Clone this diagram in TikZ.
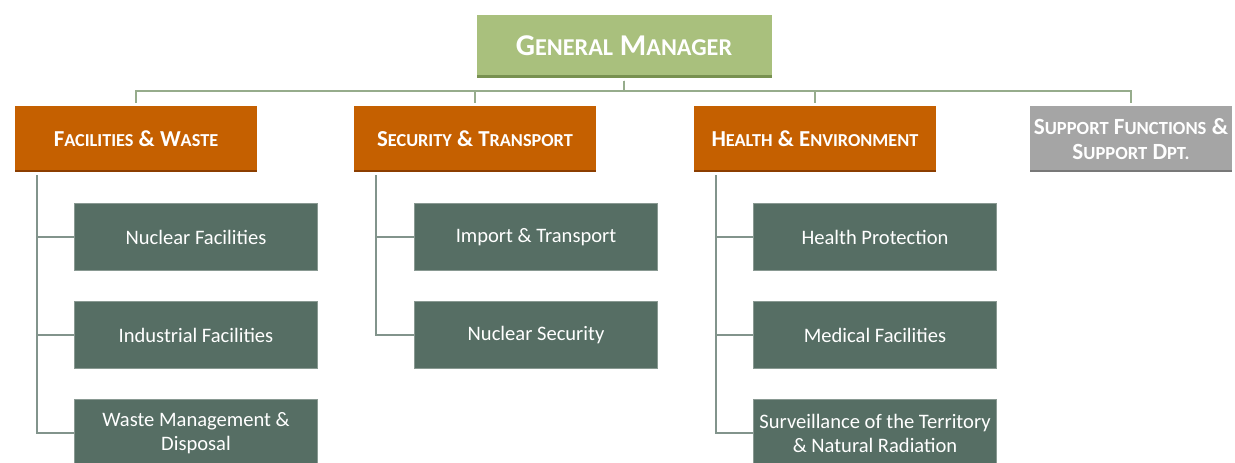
\documentclass[tikz,border=0pt]{standalone}
\usepackage{fontspec}
\setmainfont{Carlito}
\usepackage{graphicx}
\usetikzlibrary{shadows,positioning}

\definecolor{gmGreen}{RGB}{169,192,125}
\definecolor{gmGreenDark}{RGB}{120,145,80}
\definecolor{deptOrange}{RGB}{197,96,0}
\definecolor{deptOrangeDark}{RGB}{140,62,0}
\definecolor{supGrey}{RGB}{165,165,165}
\definecolor{supGreyDark}{RGB}{120,120,120}
\definecolor{unitTeal}{RGB}{86,110,100}
\definecolor{busLine}{RGB}{150,172,140}
\definecolor{subLine}{RGB}{130,148,140}

\newcommand\smc[1]{\scalebox{0.8}{#1}}
\def\px{0.02cm}

\tikzset{
  box/.style={rectangle, draw=white, line width=3*\px, text=white, align=center,
    drop shadow={shadow xshift=0.5pt, shadow yshift=-1pt, opacity=0.18, fill=black},
    path picture={
      \fill[#1] (path picture bounding box.south west) rectangle ([yshift=2.2pt]path picture bounding box.south east);
    }},
  gm/.style={box=gmGreenDark, fill=gmGreen, minimum width=298*\px, minimum height=66*\px,
    font=\fontsize{17.2}{20}\selectfont\bfseries},
  head/.style={box=deptOrangeDark, fill=deptOrange, minimum width=245*\px, minimum height=69*\px,
    font=\fontsize{13}{14}\selectfont\bfseries},
  support/.style={box=supGreyDark, fill=supGrey, minimum width=204*\px, minimum height=69*\px,
    font=\fontsize{13.2}{14.6}\selectfont\bfseries},
  unit/.style={rectangle, fill=unitTeal, draw=unitTeal!70!white, line width=0.4pt, text=white,
    align=center, minimum width=243*\px, minimum height=67*\px,
    font=\fontsize{11.7}{13.6}\selectfont},
  busline/.style={draw=busLine, line width=1.1pt},
  subline/.style={draw=subLine, line width=1.1pt}
}

\begin{document}
\begin{tikzpicture}[x=\px,y=-\px]
\useasboundingbox (0,0) rectangle (1235,463);

%% top of the chart
\node[gm] (gm) at (624,46) {G\smc{ENERAL} M\smc{ANAGER}};
\coordinate (bus) at (624,91);

%% departments
\node[head] (fw) at (136,139) {F\smc{ACILITIES} \& W\smc{ASTE}};
\node[head] (st) at (475,139) {S\smc{ECURITY} \& T\smc{RANSPORT}};
\node[head] (he) at (815,139) {H\smc{EALTH} \& E\smc{NVIRONMENT}};
\node[support] (sp) at (1131,139) {S\smc{UPPORT} F\smc{UNCTIONS} \&\\S\smc{UPPORT} D\smc{PT.}};

%% units
\node[unit] (nf) at (196,237) {Nuclear Facilities};
\node[unit] (if) at (196,335) {Industrial Facilities};
\node[unit] (wm) at (196,433) {Waste Management \&\\Disposal};
\node[unit] (it) at (536,237) {Import \& Transport};
\node[unit] (ns) at (536,335) {Nuclear Security};
\node[unit] (hp) at (875,237) {Health Protection};
\node[unit] (mf) at (875,335) {Medical Facilities};
\node[unit] (sv) at (875,433) {Surveillance of the Territory\\\& Natural Radiation};

%% connectors
\foreach \d in {fw,st,he,sp}
  \draw[busline] (gm.south) -- (bus) -| (\d.north);

\foreach \p/\c in {fw/nf,fw/if,fw/wm,st/it,st/ns,he/hp,he/mf,he/sv}
  \draw[subline] ([xshift=25*\px]\p.south west) |- (\c.west);

\end{tikzpicture}
\end{document}
